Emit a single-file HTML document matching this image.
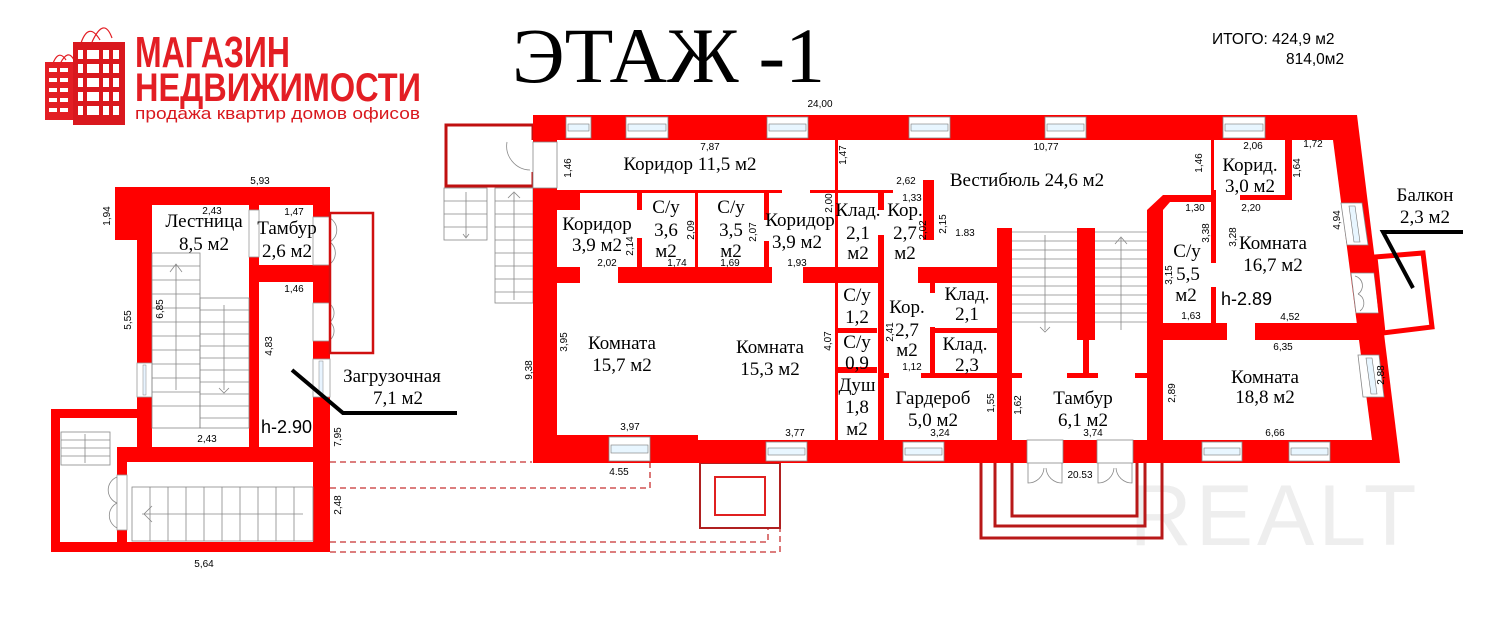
<!DOCTYPE html>
<html><head><meta charset="utf-8"><style>
html,body{margin:0;padding:0;background:#fff;}
svg{display:block;}
.s{font-family:"Liberation Serif",serif;font-size:19px;fill:#000;text-anchor:middle;}
.d{font-family:"Liberation Sans",sans-serif;font-size:10px;fill:#000;text-anchor:middle;}
.h{font-family:"Liberation Sans",sans-serif;font-size:18px;fill:#000;}
</style></head><body>
<svg width="1500" height="626" viewBox="0 0 1500 626" xmlns="http://www.w3.org/2000/svg">
<!-- watermark -->
<text x="1275" y="545" font-family="Liberation Sans,sans-serif" font-size="86" fill="#eeeeee" text-anchor="middle" letter-spacing="4">REALT</text>

<!-- logo -->
<g>
<path d="M52 66 Q58 48 66 60 M60 64 Q68 48 74 60" stroke="#e31e24" fill="none" stroke-width="1.2"/>
<path d="M80 46 Q88 20 100 40 M92 42 Q104 16 112 38" stroke="#e31e24" fill="none" stroke-width="1.2"/>
<rect x="45" y="62" width="30" height="58" fill="#e31e24"/>
<rect x="73" y="42" width="52" height="83" fill="#d9181e"/>
<g fill="#fff">
<rect x="49" y="68" width="8" height="4"/><rect x="60" y="68" width="8" height="4"/>
<rect x="49" y="78" width="8" height="4"/><rect x="60" y="78" width="8" height="4"/>
<rect x="49" y="88" width="8" height="4"/><rect x="60" y="88" width="8" height="4"/>
<rect x="49" y="98" width="8" height="4"/><rect x="60" y="98" width="8" height="4"/>
<rect x="49" y="108" width="8" height="4"/><rect x="60" y="108" width="8" height="4"/>
<rect x="78" y="50" width="5" height="9"/><rect x="87" y="50" width="12" height="9"/><rect x="103" y="50" width="6" height="9"/><rect x="113" y="50" width="6" height="9"/>
<rect x="78" y="64" width="5" height="9"/><rect x="87" y="64" width="12" height="9"/><rect x="103" y="64" width="6" height="9"/><rect x="113" y="64" width="6" height="9"/>
<rect x="78" y="78" width="5" height="9"/><rect x="87" y="78" width="12" height="9"/><rect x="103" y="78" width="6" height="9"/><rect x="113" y="78" width="6" height="9"/>
<rect x="78" y="92" width="5" height="9"/><rect x="87" y="92" width="12" height="9"/><rect x="103" y="92" width="6" height="9"/><rect x="113" y="92" width="6" height="9"/>
<rect x="78" y="106" width="5" height="9"/><rect x="87" y="106" width="12" height="9"/><rect x="103" y="106" width="6" height="9"/><rect x="113" y="106" width="6" height="9"/>
</g>
<text x="135" y="67" font-family="Liberation Sans,sans-serif" font-weight="bold" font-size="44" fill="#e31e24" textLength="155" lengthAdjust="spacingAndGlyphs">МАГАЗИН</text>
<text x="135" y="101" font-family="Liberation Sans,sans-serif" font-weight="bold" font-size="40" fill="#e31e24" textLength="286" lengthAdjust="spacingAndGlyphs">НЕДВИЖИМОСТИ</text>
<text x="135" y="119" font-family="Liberation Sans,sans-serif" font-size="17" fill="#d9181e" textLength="285" lengthAdjust="spacingAndGlyphs">продажа квартир домов офисов</text>
</g>

<text x="512" y="82" font-family="Liberation Serif,serif" font-size="78" fill="#000" textLength="313" lengthAdjust="spacingAndGlyphs">ЭТАЖ -1</text>
<text x="1212" y="44" font-family="Liberation Sans,sans-serif" font-size="15.5" fill="#000">ИТОГО: 424,9 м2</text>
<text x="1286" y="64" font-family="Liberation Sans,sans-serif" font-size="15.5" fill="#000">814,0м2</text>

<!-- ============ LEFT BLOCK ============ -->
<g fill="#ff0000">
<rect x="115" y="187" width="215" height="18"/>
<rect x="115" y="187" width="22" height="53"/>
<rect x="137" y="187" width="15" height="275"/>
<rect x="313" y="187" width="17" height="365"/>
<rect x="249" y="205" width="10" height="5"/>
<rect x="249" y="257" width="10" height="205"/>
<rect x="259" y="265" width="54" height="17"/>
<rect x="117" y="447" width="213" height="15"/>
<rect x="51" y="409" width="86" height="9"/>
<rect x="51" y="409" width="9" height="143"/>
<rect x="51" y="542" width="279" height="10"/>
<rect x="117" y="447" width="10" height="28"/>
<rect x="117" y="530" width="10" height="14"/>
</g>
<g fill="#fff" stroke="#999" stroke-width="0.8">
<rect x="137" y="363" width="15" height="34"/>
<rect x="313" y="217" width="17" height="48"/>
<rect x="313" y="303" width="17" height="38"/>
<rect x="313" y="359" width="17" height="38"/>
<rect x="249" y="210" width="10" height="47"/>
<rect x="117" y="475" width="10" height="55"/>
</g>
<rect x="143" y="365" width="3" height="30" fill="#e8f4ff" stroke="#888" stroke-width="0.5"/>
<rect x="319" y="361" width="4" height="34" fill="#e8f4ff" stroke="#888" stroke-width="0.5"/>
<!-- door arcs -->
<g fill="none" stroke="#888" stroke-width="0.8">
<path d="M330 218 A14 14 0 0 1 330 242 M330 242 A14 14 0 0 1 330 264"/>
<path d="M330 304 A12 12 0 0 1 330 322 M330 322 A12 12 0 0 1 330 340"/>
<path d="M117 477 A14 14 0 0 0 117 503 M117 503 A14 14 0 0 0 117 528"/>
</g>
<rect x="330" y="213" width="43" height="140" fill="none" stroke="#d01010" stroke-width="2.5"/>
<!-- stairs left block -->
<g stroke="#888" stroke-width="0.8" fill="none">
<rect x="152" y="253" width="48" height="175"/>
<rect x="200" y="298" width="49" height="130"/>
<path d="M152 266H200M152 280H200M152 294H200M152 308H200M152 322H200M152 336H200M152 350H200M152 364H200M152 378H200M152 392H200M152 406H200"/>
<path d="M200 310H249M200 322H249M200 334H249M200 346H249M200 358H249M200 370H249M200 382H249M200 394H249M200 406H249M200 418H249"/>
<path d="M176 390V265M170 272L176 264L182 272M224 305V390M219 388L224 393L229 388"/>
<rect x="61" y="432" width="49" height="33"/>
<path d="M61 440H110M61 448H110M61 456H110M85 463V434"/>
<rect x="132" y="487" width="181" height="54"/>
<path d="M150 487V541M168 487V541M186 487V541M204 487V541M222 487V541M240 487V541M258 487V541M276 487V541M294 487V541M142 514H303M152 506L144 514L152 522"/>
</g>
<polyline points="292,370 343,413 457,413" fill="none" stroke="#000" stroke-width="4"/>
<!-- dashed -->
<g fill="none" stroke="#c83030" stroke-width="1.3" stroke-dasharray="6,4">
<path d="M330 462H532"/>
<path d="M330 488H650V463"/>
<path d="M330 542H768V528"/>
<path d="M330 552H780V528"/>
</g>
<rect x="700" y="463" width="80" height="65" fill="none" stroke="#b02020" stroke-width="2"/>
<rect x="715" y="477" width="50" height="38" fill="none" stroke="#e02020" stroke-width="2"/>

<!-- ============ MAIN BUILDING ============ -->
<!-- exterior stair structure -->
<rect x="446" y="125" width="87" height="61" fill="none" stroke="#c01010" stroke-width="3"/>
<rect x="506" y="140" width="27" height="32" fill="#fff"/>
<path d="M507 142 A24 24 0 0 0 530 170" fill="none" stroke="#888" stroke-width="0.8"/>
<g stroke="#888" stroke-width="0.8" fill="none">
<rect x="444" y="188" width="43" height="52"/>
<path d="M444 201H487M444 214H487M444 227H487M466 192V237M463 234L466 238L469 234"/>
<rect x="495" y="188" width="38" height="115"/>
<path d="M495 201H533M495 214H533M495 227H533M495 240H533M495 253H533M495 266H533M495 279H533M495 292H533M514 300V193M508 198L514 192L520 198"/>
</g>

<g fill="#ff0000">
<!-- outer walls -->
<polygon points="533,115 1357,115 1400,463 533,463 533,115"/>
</g>
<!-- interior white -->
<polygon points="557,140 1333,140 1372,440 557,440" fill="#fff"/>
<g fill="#ff0000">
<rect x="557" y="435" width="141" height="5"/>
<rect x="557" y="190" width="225" height="3"/>
<rect x="810" y="190" width="83" height="3"/>
<rect x="557" y="190" width="23" height="20"/>
<rect x="557" y="267" width="23" height="16"/>
<rect x="618" y="267" width="154" height="16"/>
<rect x="803" y="267" width="79" height="16"/>
<rect x="918" y="267" width="82" height="16"/>
<rect x="637" y="193" width="5" height="17"/>
<rect x="637" y="238" width="5" height="29"/>
<rect x="695" y="193" width="3" height="74"/>
<rect x="764" y="193" width="5" height="27"/>
<rect x="764" y="241" width="5" height="26"/>
<rect x="835" y="140" width="3" height="300"/>
<rect x="878" y="190" width="6" height="20"/>
<rect x="878" y="235" width="6" height="205"/>
<rect x="923" y="180" width="11" height="60"/>
<rect x="837" y="328" width="40" height="5"/>
<rect x="837" y="367" width="40" height="6"/>
<rect x="884" y="373" width="5" height="5"/>
<rect x="921" y="373" width="80" height="5"/>
<rect x="930" y="283" width="5" height="10"/>
<rect x="930" y="327" width="5" height="50"/>
<rect x="930" y="328" width="70" height="5"/>
<rect x="997" y="228" width="15" height="235"/>
<rect x="1077" y="228" width="18" height="112"/>
<rect x="1083" y="340" width="6" height="35"/>
<rect x="1012" y="373" width="10" height="5"/>
<rect x="1067" y="373" width="31" height="5"/>
<rect x="1135" y="373" width="12" height="5"/>
<polygon points="1147,210 1163,195 1215,195 1215,202 1170,202 1163,210 1163,463 1147,463"/>
<rect x="1211" y="140" width="3" height="50"/>
<rect x="1211" y="190" width="5" height="73"/>
<rect x="1211" y="287" width="5" height="36"/>
<rect x="1285" y="140" width="7" height="60"/>
<rect x="1240" y="195" width="52" height="5"/>
<rect x="1163" y="323" width="64" height="17"/>
<rect x="1255" y="323" width="110" height="17"/>
</g>
<!-- door openings white in lower room bottom -->
<!-- windows top -->
<g fill="#fff" stroke="#888" stroke-width="0.8">
<rect x="566" y="117" width="25" height="21"/><rect x="626" y="117" width="42" height="21"/>
<rect x="767" y="117" width="41" height="21"/><rect x="909" y="117" width="41" height="21"/>
<rect x="1045" y="117" width="41" height="21"/><rect x="1223" y="117" width="42" height="21"/>
<rect x="609" y="437" width="41" height="24"/><rect x="766" y="442" width="41" height="19"/>
<rect x="903" y="442" width="41" height="19"/><rect x="1202" y="442" width="40" height="19"/>
<rect x="1289" y="442" width="41" height="19"/>
<rect x="1027" y="440" width="36" height="23"/><rect x="1097" y="440" width="36" height="23"/>
<rect x="533" y="142" width="24" height="46"/>
</g>
<g fill="#e8f6ff" stroke="#777" stroke-width="0.6">
<rect x="568" y="124" width="21" height="7"/><rect x="628" y="124" width="38" height="7"/>
<rect x="769" y="124" width="37" height="7"/><rect x="911" y="124" width="37" height="7"/>
<rect x="1047" y="124" width="37" height="7"/><rect x="1225" y="124" width="38" height="7"/>
<rect x="611" y="445" width="37" height="8"/><rect x="768" y="448" width="37" height="7"/>
<rect x="905" y="448" width="37" height="7"/><rect x="1204" y="448" width="36" height="7"/>
<rect x="1291" y="448" width="37" height="7"/>
</g>
<!-- right wall windows (slanted) -->
<g fill="#fff" stroke="#888" stroke-width="0.8">
<polygon points="1341,203 1362,203 1368,245 1347,245"/>
<polygon points="1351,273 1374,273 1379,313 1356,313"/>
<polygon points="1358,355 1379,355 1384,397 1363,397"/>
</g>
<g fill="#e8f6ff" stroke="#777" stroke-width="0.6">
<polygon points="1349,206 1355,206 1360,242 1354,242"/>
<polygon points="1366,358 1372,358 1377,394 1371,394"/>
</g>
<path d="M1355 276 A10 10 0 0 1 1358 294 M1358 294 A10 10 0 0 1 1360 311" fill="none" stroke="#888" stroke-width="0.8"/>
<!-- balcony -->
<polygon points="1375,257 1423,253 1432,327 1383,333" fill="none" stroke="#ff0000" stroke-width="5"/>
<polyline points="1463,232 1383,232 1413,288" fill="none" stroke="#000" stroke-width="4"/>
<!-- main stair -->
<g stroke="#888" stroke-width="0.8" fill="none">
<path d="M1012 232H1077M1012 241H1077M1012 250H1077M1012 259H1077M1012 268H1077M1012 277H1077M1012 286H1077M1012 295H1077M1012 304H1077M1012 313H1077M1012 322H1077"/>
<path d="M1095 232H1147M1095 241H1147M1095 250H1147M1095 259H1147M1095 268H1147M1095 277H1147M1095 286H1147M1095 295H1147M1095 304H1147M1095 313H1147M1095 322H1147"/>
<path d="M1045 235V330M1040 327L1045 332L1050 327M1121 330V238M1115 244L1121 237L1127 244"/>
<path d="M1028 463V483 A16 16 0 0 0 1044 468 M1062 463V483 A16 16 0 0 1 1046 468 M1098 463V483 A16 16 0 0 0 1114 468 M1132 463V483 A16 16 0 0 1 1116 468"/>
</g>
<!-- entrance steps -->
<g fill="none" stroke="#b81818" stroke-width="3">
<path d="M981 463V538H1162V463"/>
<path d="M995 463V526H1145V463"/>
<path d="M1012 463V516H1137V463"/>
</g>

<!-- room labels -->
<text class="s" x="690" y="170">Коридор 11,5 м2</text>
<text class="s" x="1027" y="186">Вестибюль 24,6 м2</text>
<text class="s" x="1250" y="171">Корид.</text><text class="s" x="1250" y="192">3,0 м2</text>
<text class="s" x="1425" y="201">Балкон</text><text class="s" x="1425" y="223">2,3 м2</text>
<text class="s" x="597" y="230">Коридор</text><text class="s" x="597" y="251">3,9 м2</text>
<text class="s" x="666" y="213">С/у</text><text class="s" x="666" y="236">3,6</text><text class="s" x="666" y="257">м2</text>
<text class="s" x="731" y="213">С/у</text><text class="s" x="731" y="236">3,5</text><text class="s" x="731" y="257">м2</text>
<text class="s" x="800" y="226">Коридор</text><text class="s" x="797" y="248">3,9 м2</text>
<text class="s" x="858" y="216">Клад.</text><text class="s" x="858" y="239">2,1</text><text class="s" x="858" y="259">м2</text>
<text class="s" x="905" y="216">Кор.</text><text class="s" x="905" y="239">2,7</text><text class="s" x="905" y="259">м2</text>
<text class="s" x="1187" y="257">С/у</text><text class="s" x="1188" y="280">5,5</text><text class="s" x="1186" y="301">м2</text>
<text class="s" x="1273" y="249">Комната</text><text class="s" x="1273" y="271">16,7 м2</text>
<text class="h" x="1221" y="305">h-2.89</text>
<text class="s" x="967" y="300">Клад.</text><text class="s" x="967" y="320">2,1</text>
<text class="s" x="965" y="350">Клад.</text><text class="s" x="967" y="371">2,3</text>
<text class="s" x="857" y="301">С/у</text><text class="s" x="857" y="323">1,2</text>
<text class="s" x="857" y="348">С/у</text><text class="s" x="857" y="369">0,9</text>
<text class="s" x="907" y="313">Кор.</text><text class="s" x="907" y="336">2,7</text><text class="s" x="907" y="356">м2</text>
<text class="s" x="857" y="391">Душ</text><text class="s" x="857" y="413">1,8</text><text class="s" x="857" y="435">м2</text>
<text class="s" x="933" y="404">Гардероб</text><text class="s" x="933" y="426">5,0 м2</text>
<text class="s" x="1083" y="404">Тамбур</text><text class="s" x="1083" y="426">6,1 м2</text>
<text class="s" x="1265" y="383">Комната</text><text class="s" x="1265" y="403">18,8 м2</text>
<text class="s" x="622" y="349">Комната</text><text class="s" x="622" y="371">15,7 м2</text>
<text class="s" x="770" y="353">Комната</text><text class="s" x="770" y="375">15,3 м2</text>
<text class="s" x="204" y="227">Лестница</text><text class="s" x="204" y="250">8,5 м2</text>
<text class="s" x="287" y="234">Тамбур</text><text class="s" x="287" y="257">2,6 м2</text>
<text class="s" x="392" y="382">Загрузочная</text><text class="s" x="398" y="404">7,1 м2</text>
<text class="h" x="261" y="433">h-2.90</text>

<!-- dimensions -->
<g class="d">
<text class="d" x="260" y="184">5,93</text>
<text class="d" x="212" y="214">2,43</text>
<text class="d" x="294" y="215">1,47</text>
<text class="d" x="294" y="292">1,46</text>
<text class="d" x="207" y="442">2,43</text>
<text class="d" x="204" y="567">5,64</text>
<text class="d" x="1313" y="147">1,72</text>
<text class="d" x="710" y="150">7,87</text>
<text class="d" x="1046" y="150">10,77</text>
<text class="d" x="1253" y="149">2,06</text>
<text class="d" x="820" y="107">24,00</text>
<text class="d" x="906" y="184">2,62</text>
<text class="d" x="912" y="201">1,33</text>
<text class="d" x="965" y="236">1.83</text>
<text class="d" x="1195" y="211">1,30</text>
<text class="d" x="1251" y="211">2,20</text>
<text class="d" x="1191" y="319">1,63</text>
<text class="d" x="1290" y="320">4,52</text>
<text class="d" x="1283" y="350">6,35</text>
<text class="d" x="1275" y="436">6,66</text>
<text class="d" x="607" y="266">2,02</text>
<text class="d" x="677" y="266">1,74</text>
<text class="d" x="730" y="266">1,69</text>
<text class="d" x="797" y="266">1,93</text>
<text class="d" x="630" y="430">3,97</text>
<text class="d" x="795" y="436">3,77</text>
<text class="d" x="940" y="436">3,24</text>
<text class="d" x="912" y="370">1,12</text>
<text class="d" x="1093" y="436">3,74</text>
<text class="d" x="1080" y="478">20.53</text>
<text class="d" x="619" y="475">4.55</text>
</g>
<g font-family="Liberation Sans,sans-serif" font-size="10" fill="#000" text-anchor="middle">
<text transform="translate(110,216) rotate(-90)">1,94</text>
<text transform="translate(131,320) rotate(-90)">5,55</text>
<text transform="translate(163,309) rotate(-90)">6,85</text>
<text transform="translate(272,346) rotate(-90)">4,83</text>
<text transform="translate(341,437) rotate(-90)">7,95</text>
<text transform="translate(341,505) rotate(-90)">2,48</text>
<text transform="translate(571,168) rotate(-90)">1,46</text>
<text transform="translate(532,370) rotate(-90)">9,38</text>
<text transform="translate(567,342) rotate(-90)">3,95</text>
<text transform="translate(633,246) rotate(-90)">2,14</text>
<text transform="translate(694,230) rotate(-90)">2,09</text>
<text transform="translate(756,232) rotate(-90)">2,07</text>
<text transform="translate(832,203) rotate(-90)">2,00</text>
<text transform="translate(846,155) rotate(-90)">1,47</text>
<text transform="translate(926,230) rotate(-90)">2,02</text>
<text transform="translate(946,224) rotate(-90)">2,15</text>
<text transform="translate(831,341) rotate(-90)">4,07</text>
<text transform="translate(893,332) rotate(-90)">2,41</text>
<text transform="translate(994,403) rotate(-90)">1,55</text>
<text transform="translate(1021,405) rotate(-90)">1,62</text>
<text transform="translate(1175,393) rotate(-90)">2,89</text>
<text transform="translate(1202,163) rotate(-90)">1,46</text>
<text transform="translate(1300,168) rotate(-90)">1,64</text>
<text transform="translate(1209,233) rotate(-90)">3,38</text>
<text transform="translate(1236,237) rotate(-90)">3,28</text>
<text transform="translate(1172,275) rotate(-90)">3,15</text>
<text transform="translate(1340,220) rotate(-90)">4,94</text>
<text transform="translate(1384,375) rotate(-90)">2,88</text>
</g>
</svg>
</body></html>
